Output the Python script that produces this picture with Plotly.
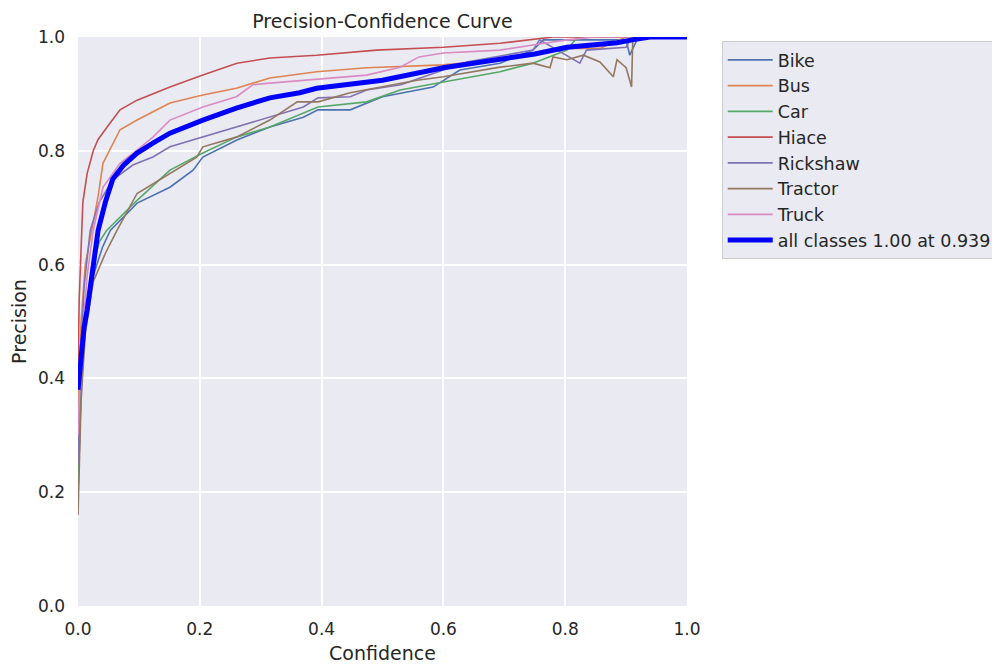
import plotly.graph_objects as go

classes = ["Bike", "Bus", "Car", "Hiace", "Rickshaw", "Tractor", "Truck"]
colors = ["#4c72b0", "#dd8452", "#55a868", "#c44e52", "#8172b3", "#937860", "#da8bc3"]

bike_conf = [0, 0.005, 0.012, 0.025, 0.04, 0.053, 0.097, 0.151, 0.189, 0.205, 0.261, 0.315, 0.37, 0.394, 0.447, 0.5, 0.583, 0.627, 0.693, 0.747, 0.764, 0.9, 0.906, 0.92, 1.0]
bike_prec = [0.2, 0.38, 0.5, 0.58, 0.63, 0.66, 0.708, 0.736, 0.766, 0.789, 0.819, 0.842, 0.859, 0.872, 0.872, 0.895, 0.912, 0.942, 0.954, 0.977, 0.995, 0.995, 0.968, 1.0, 1.0]

bus_conf = [0, 0.005, 0.012, 0.023, 0.033, 0.041, 0.069, 0.097, 0.151, 0.205, 0.26, 0.315, 0.392, 0.474, 0.6, 0.693, 0.803, 0.857, 0.9, 1.0]
bus_prec = [0.35, 0.50, 0.60, 0.66, 0.72, 0.778, 0.837, 0.854, 0.884, 0.898, 0.91, 0.928, 0.939, 0.946, 0.951, 0.96, 0.98, 0.98, 1.0, 1.0]

car_conf = [0, 0.005, 0.012, 0.025, 0.035, 0.047, 0.097, 0.151, 0.205, 0.26, 0.315, 0.394, 0.474, 0.529, 0.6, 0.693, 0.747, 0.803, 0.82, 1.0]
car_prec = [0.2, 0.38, 0.5, 0.6, 0.64, 0.66, 0.713, 0.766, 0.796, 0.824, 0.842, 0.877, 0.886, 0.907, 0.921, 0.939, 0.954, 0.977, 1.0, 1.0]

hiace_conf = [0, 0.002, 0.008, 0.015, 0.025, 0.033, 0.05, 0.069, 0.097, 0.151, 0.205, 0.261, 0.315, 0.392, 0.49, 0.6, 0.693, 0.747, 0.78, 1.0]
hiace_prec = [0.42, 0.54, 0.71, 0.76, 0.80, 0.82, 0.845, 0.872, 0.889, 0.912, 0.933, 0.954, 0.963, 0.968, 0.977, 0.982, 0.989, 0.996, 1.0, 1.0]

rickshaw_conf = [0, 0.005, 0.01, 0.02, 0.035, 0.057, 0.09, 0.123, 0.151, 0.205, 0.26, 0.315, 0.37, 0.394, 0.447, 0.474, 0.53, 0.6, 0.638, 0.747, 0.758, 0.824, 0.835, 0.9, 0.91, 1.0]
rickshaw_prec = [0.25, 0.45, 0.56, 0.66, 0.71, 0.749, 0.775, 0.789, 0.807, 0.824, 0.842, 0.859, 0.877, 0.893, 0.895, 0.907, 0.916, 0.942, 0.956, 0.977, 0.995, 0.954, 0.977, 0.982, 1.0, 1.0]

tractor_conf = [0, 0.005, 0.012, 0.025, 0.045, 0.064, 0.097, 0.151, 0.195, 0.205, 0.26, 0.315, 0.36, 0.394, 0.447, 0.557, 0.6, 0.693, 0.747, 0.775, 0.78, 0.803, 0.83, 0.857, 0.879, 0.885, 0.9, 0.909, 0.911, 1.0]
tractor_prec = [0.16, 0.36, 0.48, 0.57, 0.62, 0.66, 0.725, 0.76, 0.789, 0.807, 0.824, 0.854, 0.886, 0.886, 0.902, 0.924, 0.93, 0.947, 0.954, 0.946, 0.965, 0.96, 0.968, 0.956, 0.93, 0.96, 0.946, 0.912, 1.0, 1.0]

truck_conf = [0, 0.005, 0.015, 0.025, 0.041, 0.069, 0.097, 0.123, 0.151, 0.205, 0.26, 0.287, 0.315, 0.392, 0.474, 0.529, 0.56, 0.6, 0.693, 0.747, 0.803, 0.85, 1.0]
truck_prec = [0.3, 0.45, 0.58, 0.66, 0.736, 0.778, 0.801, 0.824, 0.854, 0.877, 0.895, 0.916, 0.919, 0.926, 0.933, 0.947, 0.965, 0.972, 0.977, 0.986, 0.995, 1.0, 1.0]

all_conf = [0, 0.005, 0.01, 0.015, 0.025, 0.033, 0.045, 0.057, 0.075, 0.097, 0.125, 0.151, 0.205, 0.26, 0.315, 0.364, 0.392, 0.45, 0.5, 0.6, 0.693, 0.75, 0.803, 0.85, 0.885, 0.91, 0.939, 1.0]
all_prec = [0.38, 0.44, 0.49, 0.52, 0.6, 0.66, 0.71, 0.75, 0.775, 0.796, 0.815, 0.831, 0.854, 0.875, 0.893, 0.902, 0.91, 0.918, 0.924, 0.946, 0.96, 0.97, 0.982, 0.987, 0.99, 0.995, 1.0, 1.0]
all_label = "all classes 1.00 at 0.939"

ticks = [0.0, 0.2, 0.4, 0.6, 0.8, 1.0]
tick_text = ["0.0", "0.2", "0.4", "0.6", "0.8", "1.0"]

series = [
    (bike_conf, bike_prec), (bus_conf, bus_prec), (car_conf, car_prec),
    (hiace_conf, hiace_prec), (rickshaw_conf, rickshaw_prec),
    (tractor_conf, tractor_prec), (truck_conf, truck_prec),
]

fig = go.Figure()
for name, color, (cx, py) in zip(classes, colors, series):
    fig.add_trace(go.Scatter(x=cx, y=py, mode="lines", name=name,
                             line=dict(color=color, width=1.6)))
fig.add_trace(go.Scatter(x=all_conf, y=all_prec, mode="lines", name=all_label,
                         line=dict(color="#0000ff", width=5)))

# page has an 8px body margin; figure coords = page coords - 8
L, T, PW, PH = 70, 29, 609, 569
W, H = 1000, 665
font = "DejaVu Sans, Arial, sans-serif"
fig.update_layout(
    width=W, height=H,
    margin=dict(l=L, r=W - L - PW, t=T, b=H - T - PH, autoexpand=False),
    paper_bgcolor="white",
    plot_bgcolor="#eaeaf2",
    font=dict(family=font, size=17, color="#262626"),
    title=dict(text="Precision-Confidence Curve", x=(L + PW / 2) / W, xanchor="center",
               y=1 - 13 / H, yanchor="middle", font=dict(size=19, color="#262626")),
    legend=dict(x=1.057, y=0.993, xanchor="left", yanchor="top",
                bgcolor="#eaeaf2", bordercolor="#cccccc", borderwidth=1,
                itemwidth=45,
                font=dict(size=17.5, color="#262626"), tracegroupgap=0),
    showlegend=True,
)
fig.update_xaxes(range=[0, 1], tickvals=ticks, ticktext=tick_text, showgrid=True,
                 gridcolor="white", gridwidth=1.5, zeroline=False, showline=False,
                 ticks="", ticklabelstandoff=11,
                 title=dict(text="Confidence", font=dict(size=19), standoff=8))
fig.update_yaxes(range=[0, 1], tickvals=ticks, ticktext=tick_text, showgrid=True,
                 gridcolor="white", gridwidth=1.5, zeroline=False, showline=False,
                 ticks="", ticklabelstandoff=12,
                 title=dict(text="Precision", font=dict(size=19), standoff=6))

fig.write_html("out.html")
